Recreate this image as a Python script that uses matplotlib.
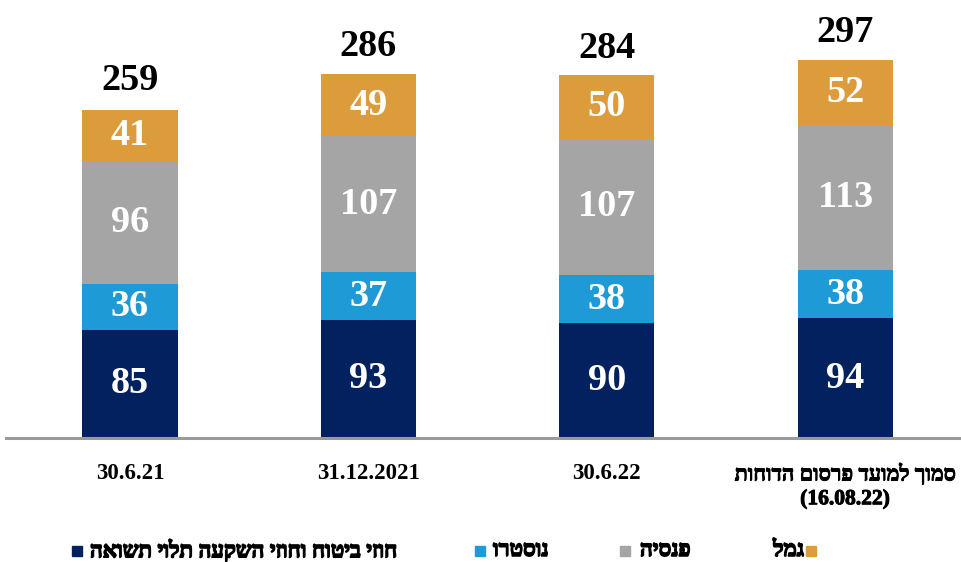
import matplotlib
matplotlib.use("Agg")
import matplotlib.pyplot as plt
import matplotlib.patheffects as pe
from matplotlib.patches import Rectangle

plt.rcParams['font.family'] = ['Liberation Serif', 'DejaVu Sans']

def rtl(s):
    # matplotlib has no bidi support, so Hebrew is reversed by hand
    return s[::-1]

periods = ["30.6.21", "31.12.2021", "30.6.22",
           rtl("סמוך למועד פרסום הדוחות") + "\n(16.08.22)"]
series_names = ["חוזי ביטוח וחוזי השקעה תלוי תשואה", "נוסטרו", "פנסיה", "גמל"]
insurance = [85, 93, 90, 94]
nostro = [36, 37, 38, 38]
pension = [96, 107, 107, 113]
gemel = [41, 49, 50, 52]
totals = [259, 286, 284, 297]
colors = ["#03215F", "#1E9AD6", "#A5A5A5", "#DD9C3B"]

# Hebrew bold glyphs come out thin, so thicken them with a stroke
fat = [pe.withStroke(linewidth=1.1, foreground="black")]

fig = plt.figure(figsize=(9.62, 5.62), dpi=100)
ax = fig.add_axes([6/962, 124/562, 956/962, 438/562])
x = range(len(periods))
bottom = [0, 0, 0, 0]
for vals, c in zip([insurance, nostro, pension, gemel], colors):
    bars = ax.bar(x, vals, 0.40, bottom=bottom, color=c)
    for b, v, bt in zip(bars, vals, bottom):
        ax.text(b.get_x() + b.get_width()/2, bt + v/2, str(v), ha="center", va="center",
                color="white", fontsize=27.5, fontweight="bold")
    bottom = [a + v for a, v in zip(bottom, vals)]
for i, t in enumerate(totals):
    ax.text(i, t + 8, str(t), ha="center", va="bottom", color="black",
            fontsize=27.5, fontweight="bold")

ax.set_xlim(-0.52, 3.49); ax.set_ylim(0, 344)
for s in ["top", "right", "left"]:
    ax.spines[s].set_visible(False)
ax.spines["bottom"].set_color("#9a9a9a"); ax.spines["bottom"].set_linewidth(2.2)
ax.set_yticks([])
ax.set_xticks(list(x)); ax.set_xticklabels(periods, fontsize=16.5, fontweight="bold")
ax.tick_params(axis="x", length=0, pad=18)
for lab in ax.get_xticklabels():
    lab.set_linespacing(1.25)
last = ax.get_xticklabels()[3]
last.set_fontsize(15.5)
last.set_path_effects([pe.withStroke(linewidth=0.7, foreground="black")])

# legend, placed by hand to match the right-to-left layout
sq = [72, 475, 620, 806]
tx = [90, 493, 640, 804]
ha = ["left", "left", "left", "right"]
ly = 551
for name, c, s, t, h in zip(series_names, colors, sq, tx, ha):
    fig.patches.append(Rectangle((s/962, (562-ly-5)/562), 10/962, 10/562,
                                 transform=fig.transFigure, color=c))
    fig.text(t/962, (562-ly)/562, rtl(name), ha=h, va="center",
             fontsize=16, fontweight="bold", path_effects=fat)

fig.savefig("out.png", dpi=100)
